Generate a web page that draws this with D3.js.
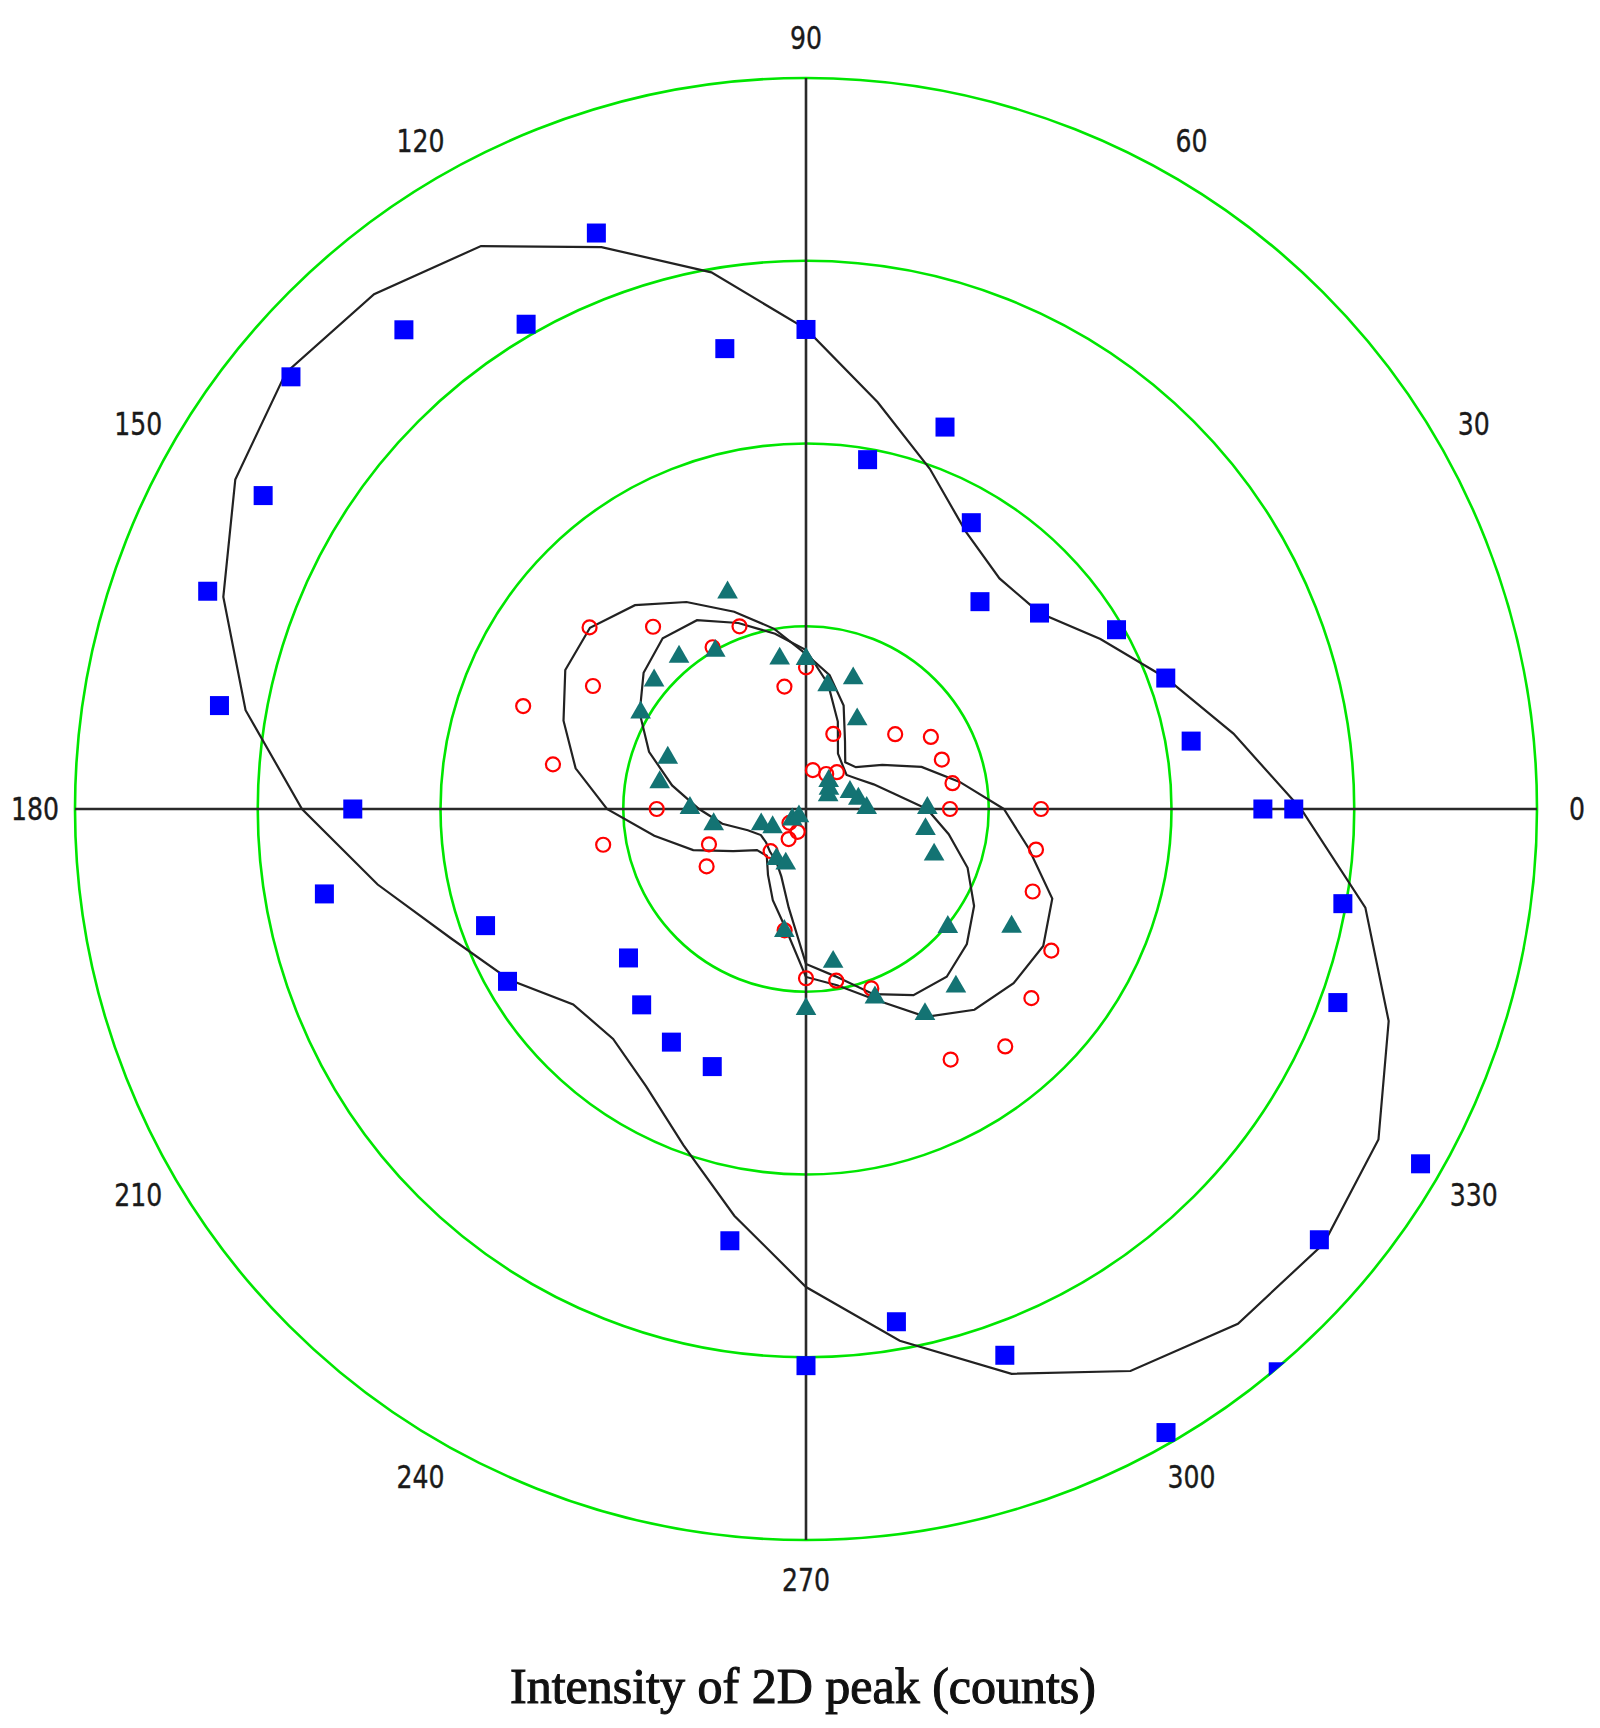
<!doctype html>
<html>
<head>
<meta charset="utf-8">
<title>Polar plot - Intensity of 2D peak</title>
<script src="https://d3js.org/d3.v7.min.js"></script>
<style>
    body { margin: 0; background: #fff; }
    svg { display: block; }
</style>
</head>
<body>
<svg id="chart" width="1600" height="1728"></svg>
<script>
// polarization angle (deg) of each measurement
const angles = [0, 10, 20, 30, 40, 50, 60, 70, 80, 90, 100, 110, 120, 130, 140, 150, 160, 170, 180,
    190, 200, 210, 220, 230, 240, 250, 260, 270, 280, 290, 300, 310, 320, 330, 340, 350, 360];

// measured intensity (counts) for the three samples
const blueSquares = [2500, 2140, 2095, 1962, 1668, 1481, 1809, 2224, 1941, 2624, 2558, 3354, 3063, 3423, 3679, 3430, 3484, 3259, 2480,
    2676, 1866, 1886, 1268, 1399, 1473, 1500, 2399, 3046, 2849, 3181, 3940, 4020, 3667, 3883, 3097, 2983, 2669];
const redCircles = [788, 814, 791, 789, 637, 263, 221, 437, 216, 775, 680, 1064, 1022, 1302, 1546, 1346, 1647, 1406, 817,
    1127, 565, 628, 118, 301, 190, 133, 674, 926, 954, 1045, 1583, 1696, 1610, 1550, 1320, 1278, 1286];
const tealTriangles = [332, 291, 256, 140, 164, 193, 560, 755, 682, 815, 830, 1255, 993, 1081, 1085, 1045, 805, 813, 635,
    513, 261, 211, 98, 60, 322, 324, 683, 1100, 855, 1103, 1302, 1276, 1013, 1299, 746, 664, 664];

// fitted curves, read every 10 deg
const fitAngles = [0, 10, 20, 30, 40, 50, 60, 70, 80, 90, 100, 110, 120, 130, 140, 150, 160, 170,
    180, 190, 200, 210, 220, 230, 240, 250, 260, 270, 280, 290, 300, 310, 320, 330, 340, 350];
const fitBlue = [2709, 2375, 2096, 1860, 1669, 1647, 1751, 1981, 2260, 2627, 2982, 3272, 3557, 3677, 3715, 3606, 3393, 3114,
    2758, 2380, 2068, 1871, 1663, 1642, 1751, 1959, 2260, 2616, 2955, 3289, 3551, 3677, 3699, 3617, 3393, 3108];
const fitRed = [1083, 854, 673, 482, 356, 334, 427, 602, 744, 848, 1001, 1149, 1308, 1456, 1543, 1521, 1412, 1280,
    1089, 843, 657, 460, 350, 334, 416, 531, 657, 919, 979, 1111, 1313, 1434, 1483, 1499, 1434, 1237];
const fitTeal = [662, 487, 394, 328, 290, 312, 350, 509, 695, 870, 974, 1083, 1193, 1220, 1160, 1051, 914, 744,
    585, 465, 339, 285, 285, 306, 328, 394, 547, 848, 930, 1078, 1176, 1198, 1149, 1062, 941, 793];

const ringValues = [1000, 2000, 3000, 4000];
const angleTicks = [0, 30, 60, 90, 120, 150, 180, 210, 240, 270, 300, 330];
const titleText = "Intensity of 2D peak (counts)";

// ---- layout
const cx = 806, cy = 809, R = 731;

let svg = d3.select("#chart");
svg.append("rect").attr("width", 1600).attr("height", 1728).attr("fill", "#fff");

let r = d3.scaleLinear().domain([0, 4000]).range([0, R]);
// degrees counter-clockwise from east -> d3 radial angle (clockwise from north)
let a = d3.scaleLinear().domain([0, 360]).range([Math.PI / 2, Math.PI / 2 - 2 * Math.PI]);

svg.append("defs").append("clipPath").attr("id", "plotClip")
    .append("circle").attr("r", R + 1);

let g = svg.append("g").attr("transform", "translate(" + cx + "," + cy + ")");

// rings
g.append("g").selectAll("circle")
    .data(ringValues)
    .enter().append("circle")
    .attr("r", d => r(d))
    .attr("fill", "none")
    .attr("stroke", "#00e600")
    .attr("stroke-width", 2.6);

// axes
g.append("line").attr("x1", -r(4000)).attr("x2", r(4000)).attr("y1", 0).attr("y2", 0)
    .attr("stroke", "#2a2a2a").attr("stroke-width", 2.6);
g.append("line").attr("y1", -r(4000)).attr("y2", r(4000)).attr("x1", 0).attr("x2", 0)
    .attr("stroke", "#2a2a2a").attr("stroke-width", 2.6);

// angle labels
g.append("g").selectAll("text")
    .data(angleTicks)
    .enter().append("text")
    .attr("x", d => d3.pointRadial(a(d), R + 40)[0])
    .attr("y", d => d3.pointRadial(a(d), R + 40)[1])
    .attr("text-anchor", "middle")
    .attr("dominant-baseline", "central")
    .attr("font-family", "DejaVu Sans, sans-serif")
    .attr("font-size", 32)
    .attr("fill", "#1a1a1a")
    .attr("stroke", "#1a1a1a")
    .attr("stroke-width", 0.4)
    .attr("textLength", d => String(d).length * 16)
    .attr("lengthAdjust", "spacingAndGlyphs")
    .text(d => d);

let plot = g.append("g").attr("clip-path", "url(#plotClip)");

// fitted curves
let radial = d3.lineRadial()
    .angle(d => a(d[0]))
    .radius(d => r(d[1]))
    .curve(d3.curveLinearClosed);

[fitBlue, fitRed, fitTeal].forEach(function(vals) {
    plot.append("path")
        .datum(d3.zip(fitAngles, vals))
        .attr("d", radial)
        .attr("fill", "none")
        .attr("stroke", "#222")
        .attr("stroke-width", 2.2);
});

function pos(t, v) {
    return d3.pointRadial(a(t), r(v));
}

// blue squares
plot.append("g").selectAll("rect")
    .data(d3.zip(angles, blueSquares))
    .enter().append("rect")
    .attr("x", d => pos(d[0], d[1])[0] - 9.5)
    .attr("y", d => pos(d[0], d[1])[1] - 9.5)
    .attr("width", 19)
    .attr("height", 19)
    .attr("fill", "#0000ff");

// red open circles
plot.append("g").selectAll("circle")
    .data(d3.zip(angles, redCircles))
    .enter().append("circle")
    .attr("cx", d => pos(d[0], d[1])[0])
    .attr("cy", d => pos(d[0], d[1])[1])
    .attr("r", 7)
    .attr("fill", "none")
    .attr("stroke", "#ff0000")
    .attr("stroke-width", 2.2);

// teal triangles
let tri = d3.symbol().type(d3.symbolTriangle).size(185);
plot.append("g").selectAll("path")
    .data(d3.zip(angles, tealTriangles))
    .enter().append("path")
    .attr("d", tri)
    .attr("transform", d => "translate(" + pos(d[0], d[1])[0] + "," + (pos(d[0], d[1])[1] - 1) + ")")
    .attr("fill", "#137373");

// title
svg.append("text")
    .attr("x", 803)
    .attr("y", 1703)
    .attr("text-anchor", "middle")
    .attr("font-family", "Liberation Serif, Times New Roman, serif")
    .attr("font-size", 50)
    .attr("fill", "#111")
    .attr("stroke", "#111")
    .attr("stroke-width", 1.1)
    .text(titleText);
</script>
</body>
</html>
